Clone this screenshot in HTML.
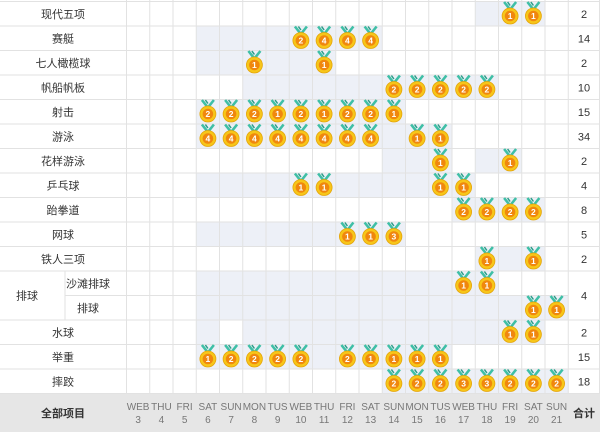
<!DOCTYPE html>
<html><head><meta charset="utf-8"><style>
html,body{margin:0;padding:0;background:#fff;width:600px;height:432px;overflow:hidden}
svg text{font-family:"Liberation Sans","Noto Sans CJK SC",sans-serif}
.l{font-size:11px;fill:#333;text-anchor:middle}
.t{font-size:11px;fill:#333;text-anchor:middle}
.n{font-size:8.5px;fill:#fff;font-weight:bold;text-anchor:middle}
.d{font-size:10px;fill:#777;text-anchor:middle}
.s{fill:#edf0f7}
</style></head><body>
<svg width="600" height="432" viewBox="0 0 600 432" xmlns="http://www.w3.org/2000/svg">
<defs>
<g id="m">
<path d="M-6,0.5 L0,8 L6,0.5" fill="none" stroke="#3fbfa6" stroke-width="2.6"/>
<path d="M-2.5,0.5 L0,4" fill="none" stroke="#2a9d88" stroke-width="1.5"/>
<circle cx="0" cy="14.5" r="8" fill="#f7c619" stroke="#e5a50a" stroke-width="0.8"/>
<circle cx="0" cy="14.5" r="5.3" fill="#f0870e"/>
</g>
</defs>
<!-- shading -->
<rect class="s" x="475.25" y="1.5" width="69.75" height="24.5"/>
<rect class="s" x="196.25" y="26" width="186" height="24.5"/>
<rect class="s" x="196.25" y="50.5" width="139.5" height="24.5"/>
<rect class="s" x="242.75" y="75" width="255.75" height="24.5"/>
<rect class="s" x="196.25" y="99.5" width="209.25" height="24.5"/>
<rect class="s" x="196.25" y="124" width="255.75" height="24.5"/>
<rect class="s" x="382.25" y="148.5" width="69.75" height="24.5"/>
<rect class="s" x="475.25" y="148.5" width="46.5" height="24.5"/>
<rect class="s" x="196.25" y="173" width="279" height="24.5"/>
<rect class="s" x="452" y="197.5" width="93" height="24.5"/>
<rect class="s" x="196.25" y="222" width="209.25" height="24.5"/>
<rect class="s" x="475.25" y="246.5" width="69.75" height="24.5"/>
<rect class="s" x="196.25" y="271" width="302.25" height="24.5"/>
<rect class="s" x="196.25" y="295.5" width="372" height="24.5"/>
<rect class="s" x="196.25" y="320" width="23.25" height="24.5"/>
<rect class="s" x="242.75" y="320" width="302.25" height="24.5"/>
<rect class="s" x="196.25" y="344.5" width="255.75" height="24.5"/>
<rect class="s" x="382.25" y="369" width="186" height="24.5"/>
<!-- footer -->
<rect x="0" y="394" width="600" height="38" fill="#e6e6e6"/>
<!-- grid -->
<g stroke="#e2e2e2" stroke-width="1">
<path d="M0,1.5H600M0,26H600M0,50.5H600M0,75H600M0,99.5H600M0,124H600M0,148.5H600M0,173H600M0,197.5H600M0,222H600M0,246.5H600M0,271H600M65,295.5H568M0,320H600M0,344.5H600M0,369H600M0,393.5H600"/>
<path d="M65,271V320M126.5,0V394M149.75,0V394M173,0V394M196.25,0V394M219.5,0V394M242.75,0V394M266,0V394M289.25,0V394M312.5,0V394M335.75,0V394M359,0V394M382.25,0V394M405.5,0V394M428.75,0V394M452,0V394M475.25,0V394M498.5,0V394M521.75,0V394M545,0V394M568.25,0V394M599.5,0V394"/>
</g>
<!-- labels -->
<text class="l" x="63" y="18">现代五项</text>
<text class="l" x="63" y="42.5">赛艇</text>
<text class="l" x="63" y="67">七人橄榄球</text>
<text class="l" x="63" y="91.5">帆船帆板</text>
<text class="l" x="63" y="116">射击</text>
<text class="l" x="63" y="140.5">游泳</text>
<text class="l" x="63" y="165">花样游泳</text>
<text class="l" x="63" y="189.5">乒乓球</text>
<text class="l" x="63" y="214">跆拳道</text>
<text class="l" x="63" y="238.5">网球</text>
<text class="l" x="63" y="263">铁人三项</text>
<text class="l" x="27" y="299.5">排球</text>
<text class="l" x="88" y="287.5">沙滩排球</text>
<text class="l" x="88" y="312">排球</text>
<text class="l" x="63" y="336.5">水球</text>
<text class="l" x="63" y="361">举重</text>
<text class="l" x="63" y="385.5">摔跤</text>
<!-- totals -->
<text class="t" x="584" y="18">2</text>
<text class="t" x="584" y="42.5">14</text>
<text class="t" x="584" y="67">2</text>
<text class="t" x="584" y="91.5">10</text>
<text class="t" x="584" y="116">15</text>
<text class="t" x="584" y="140.5">34</text>
<text class="t" x="584" y="165">2</text>
<text class="t" x="584" y="189.5">4</text>
<text class="t" x="584" y="214">8</text>
<text class="t" x="584" y="238.5">5</text>
<text class="t" x="584" y="263">2</text>
<text class="t" x="584" y="299.5">4</text>
<text class="t" x="584" y="336.5">2</text>
<text class="t" x="584" y="361">15</text>
<text class="t" x="584" y="385.5">18</text>
<!-- medals -->
<g transform="translate(0,1.5)">
<g transform="translate(510.1,0)"><use href="#m"/><text class="n" y="17.5">1</text></g>
<g transform="translate(533.4,0)"><use href="#m"/><text class="n" y="17.5">1</text></g>
</g>
<g transform="translate(0,26)">
<g transform="translate(300.9,0)"><use href="#m"/><text class="n" y="17.5">2</text></g>
<g transform="translate(324.1,0)"><use href="#m"/><text class="n" y="17.5">4</text></g>
<g transform="translate(347.4,0)"><use href="#m"/><text class="n" y="17.5">4</text></g>
<g transform="translate(370.6,0)"><use href="#m"/><text class="n" y="17.5">4</text></g>
</g>
<g transform="translate(0,50.5)">
<g transform="translate(254.4,0)"><use href="#m"/><text class="n" y="17.5">1</text></g>
<g transform="translate(324.1,0)"><use href="#m"/><text class="n" y="17.5">1</text></g>
</g>
<g transform="translate(0,75)">
<g transform="translate(393.9,0)"><use href="#m"/><text class="n" y="17.5">2</text></g>
<g transform="translate(417.1,0)"><use href="#m"/><text class="n" y="17.5">2</text></g>
<g transform="translate(440.4,0)"><use href="#m"/><text class="n" y="17.5">2</text></g>
<g transform="translate(463.6,0)"><use href="#m"/><text class="n" y="17.5">2</text></g>
<g transform="translate(486.9,0)"><use href="#m"/><text class="n" y="17.5">2</text></g>
</g>
<g transform="translate(0,99.5)">
<g transform="translate(207.9,0)"><use href="#m"/><text class="n" y="17.5">2</text></g>
<g transform="translate(231.1,0)"><use href="#m"/><text class="n" y="17.5">2</text></g>
<g transform="translate(254.4,0)"><use href="#m"/><text class="n" y="17.5">2</text></g>
<g transform="translate(277.6,0)"><use href="#m"/><text class="n" y="17.5">1</text></g>
<g transform="translate(300.9,0)"><use href="#m"/><text class="n" y="17.5">2</text></g>
<g transform="translate(324.1,0)"><use href="#m"/><text class="n" y="17.5">1</text></g>
<g transform="translate(347.4,0)"><use href="#m"/><text class="n" y="17.5">2</text></g>
<g transform="translate(370.6,0)"><use href="#m"/><text class="n" y="17.5">2</text></g>
<g transform="translate(393.9,0)"><use href="#m"/><text class="n" y="17.5">1</text></g>
</g>
<g transform="translate(0,124)">
<g transform="translate(207.9,0)"><use href="#m"/><text class="n" y="17.5">4</text></g>
<g transform="translate(231.1,0)"><use href="#m"/><text class="n" y="17.5">4</text></g>
<g transform="translate(254.4,0)"><use href="#m"/><text class="n" y="17.5">4</text></g>
<g transform="translate(277.6,0)"><use href="#m"/><text class="n" y="17.5">4</text></g>
<g transform="translate(300.9,0)"><use href="#m"/><text class="n" y="17.5">4</text></g>
<g transform="translate(324.1,0)"><use href="#m"/><text class="n" y="17.5">4</text></g>
<g transform="translate(347.4,0)"><use href="#m"/><text class="n" y="17.5">4</text></g>
<g transform="translate(370.6,0)"><use href="#m"/><text class="n" y="17.5">4</text></g>
<g transform="translate(417.1,0)"><use href="#m"/><text class="n" y="17.5">1</text></g>
<g transform="translate(440.4,0)"><use href="#m"/><text class="n" y="17.5">1</text></g>
</g>
<g transform="translate(0,148.5)">
<g transform="translate(440.4,0)"><use href="#m"/><text class="n" y="17.5">1</text></g>
<g transform="translate(510.1,0)"><use href="#m"/><text class="n" y="17.5">1</text></g>
</g>
<g transform="translate(0,173)">
<g transform="translate(300.9,0)"><use href="#m"/><text class="n" y="17.5">1</text></g>
<g transform="translate(324.1,0)"><use href="#m"/><text class="n" y="17.5">1</text></g>
<g transform="translate(440.4,0)"><use href="#m"/><text class="n" y="17.5">1</text></g>
<g transform="translate(463.6,0)"><use href="#m"/><text class="n" y="17.5">1</text></g>
</g>
<g transform="translate(0,197.5)">
<g transform="translate(463.6,0)"><use href="#m"/><text class="n" y="17.5">2</text></g>
<g transform="translate(486.9,0)"><use href="#m"/><text class="n" y="17.5">2</text></g>
<g transform="translate(510.1,0)"><use href="#m"/><text class="n" y="17.5">2</text></g>
<g transform="translate(533.4,0)"><use href="#m"/><text class="n" y="17.5">2</text></g>
</g>
<g transform="translate(0,222)">
<g transform="translate(347.4,0)"><use href="#m"/><text class="n" y="17.5">1</text></g>
<g transform="translate(370.6,0)"><use href="#m"/><text class="n" y="17.5">1</text></g>
<g transform="translate(393.9,0)"><use href="#m"/><text class="n" y="17.5">3</text></g>
</g>
<g transform="translate(0,246.5)">
<g transform="translate(486.9,0)"><use href="#m"/><text class="n" y="17.5">1</text></g>
<g transform="translate(533.4,0)"><use href="#m"/><text class="n" y="17.5">1</text></g>
</g>
<g transform="translate(0,271)">
<g transform="translate(463.6,0)"><use href="#m"/><text class="n" y="17.5">1</text></g>
<g transform="translate(486.9,0)"><use href="#m"/><text class="n" y="17.5">1</text></g>
</g>
<g transform="translate(0,295.5)">
<g transform="translate(533.4,0)"><use href="#m"/><text class="n" y="17.5">1</text></g>
<g transform="translate(556.6,0)"><use href="#m"/><text class="n" y="17.5">1</text></g>
</g>
<g transform="translate(0,320)">
<g transform="translate(510.1,0)"><use href="#m"/><text class="n" y="17.5">1</text></g>
<g transform="translate(533.4,0)"><use href="#m"/><text class="n" y="17.5">1</text></g>
</g>
<g transform="translate(0,344.5)">
<g transform="translate(207.9,0)"><use href="#m"/><text class="n" y="17.5">1</text></g>
<g transform="translate(231.1,0)"><use href="#m"/><text class="n" y="17.5">2</text></g>
<g transform="translate(254.4,0)"><use href="#m"/><text class="n" y="17.5">2</text></g>
<g transform="translate(277.6,0)"><use href="#m"/><text class="n" y="17.5">2</text></g>
<g transform="translate(300.9,0)"><use href="#m"/><text class="n" y="17.5">2</text></g>
<g transform="translate(347.4,0)"><use href="#m"/><text class="n" y="17.5">2</text></g>
<g transform="translate(370.6,0)"><use href="#m"/><text class="n" y="17.5">1</text></g>
<g transform="translate(393.9,0)"><use href="#m"/><text class="n" y="17.5">1</text></g>
<g transform="translate(417.1,0)"><use href="#m"/><text class="n" y="17.5">1</text></g>
<g transform="translate(440.4,0)"><use href="#m"/><text class="n" y="17.5">1</text></g>
</g>
<g transform="translate(0,369)">
<g transform="translate(393.9,0)"><use href="#m"/><text class="n" y="17.5">2</text></g>
<g transform="translate(417.1,0)"><use href="#m"/><text class="n" y="17.5">2</text></g>
<g transform="translate(440.4,0)"><use href="#m"/><text class="n" y="17.5">2</text></g>
<g transform="translate(463.6,0)"><use href="#m"/><text class="n" y="17.5">3</text></g>
<g transform="translate(486.9,0)"><use href="#m"/><text class="n" y="17.5">3</text></g>
<g transform="translate(510.1,0)"><use href="#m"/><text class="n" y="17.5">2</text></g>
<g transform="translate(533.4,0)"><use href="#m"/><text class="n" y="17.5">2</text></g>
<g transform="translate(556.6,0)"><use href="#m"/><text class="n" y="17.5">2</text></g>
</g>
<!-- footer text -->
<text x="63" y="417" style="font-size:11px;font-weight:bold;fill:#333;text-anchor:middle">全部项目</text>
<text x="584" y="417" style="font-size:11px;font-weight:bold;fill:#333;text-anchor:middle">合计</text>
<g class="d">
<text class="d" x="138.1" y="410">WEB</text><text class="d" x="138.1" y="423">3</text>
<text class="d" x="161.4" y="410">THU</text><text class="d" x="161.4" y="423">4</text>
<text class="d" x="184.6" y="410">FRI</text><text class="d" x="184.6" y="423">5</text>
<text class="d" x="207.9" y="410">SAT</text><text class="d" x="207.9" y="423">6</text>
<text class="d" x="231.1" y="410">SUN</text><text class="d" x="231.1" y="423">7</text>
<text class="d" x="254.4" y="410">MON</text><text class="d" x="254.4" y="423">8</text>
<text class="d" x="277.6" y="410">TUS</text><text class="d" x="277.6" y="423">9</text>
<text class="d" x="300.9" y="410">WEB</text><text class="d" x="300.9" y="423">10</text>
<text class="d" x="324.1" y="410">THU</text><text class="d" x="324.1" y="423">11</text>
<text class="d" x="347.4" y="410">FRI</text><text class="d" x="347.4" y="423">12</text>
<text class="d" x="370.6" y="410">SAT</text><text class="d" x="370.6" y="423">13</text>
<text class="d" x="393.9" y="410">SUN</text><text class="d" x="393.9" y="423">14</text>
<text class="d" x="417.1" y="410">MON</text><text class="d" x="417.1" y="423">15</text>
<text class="d" x="440.4" y="410">TUS</text><text class="d" x="440.4" y="423">16</text>
<text class="d" x="463.6" y="410">WEB</text><text class="d" x="463.6" y="423">17</text>
<text class="d" x="486.9" y="410">THU</text><text class="d" x="486.9" y="423">18</text>
<text class="d" x="510.1" y="410">FRI</text><text class="d" x="510.1" y="423">19</text>
<text class="d" x="533.4" y="410">SAT</text><text class="d" x="533.4" y="423">20</text>
<text class="d" x="556.6" y="410">SUN</text><text class="d" x="556.6" y="423">21</text>
</g>
</svg>
</body></html>
